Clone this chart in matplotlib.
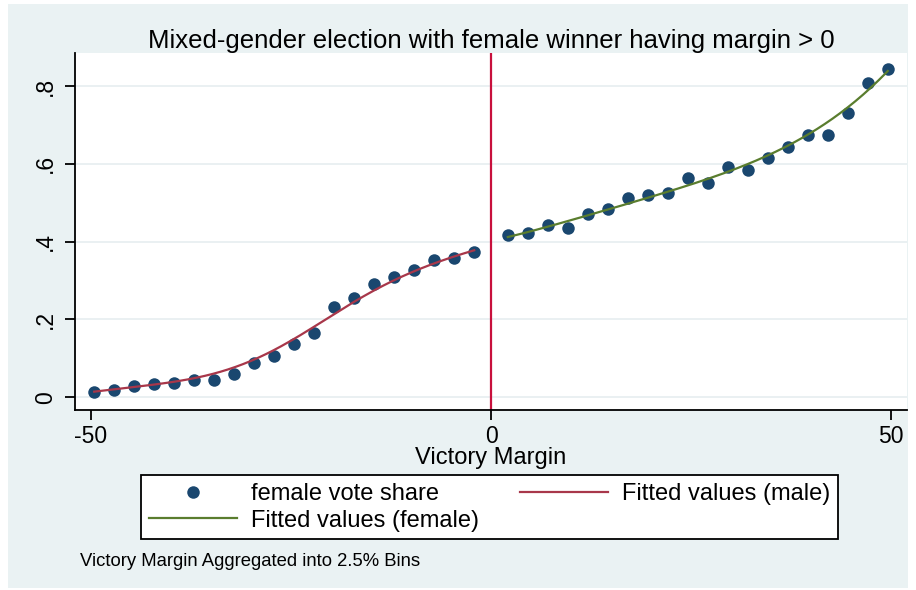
import numpy as np
import matplotlib
matplotlib.use("Agg")
import matplotlib.pyplot as plt
from matplotlib.patches import Rectangle
from matplotlib.lines import Line2D

plt.rcParams["font.family"] = ["Liberation Sans", "DejaVu Sans"]

# Binned victory margin (2.5% bins) and mean female vote share per bin
margin_male = [-49.6, -47.1, -44.6, -42.1, -39.6, -37.1, -34.6, -32.1, -29.6, -27.1,
               -24.6, -22.1, -19.6, -17.1, -14.6, -12.1, -9.6, -7.1, -4.6, -2.1]
share_male = [0.014, 0.019, 0.029, 0.033, 0.036, 0.043, 0.044, 0.059, 0.087, 0.107,
              0.137, 0.166, 0.231, 0.254, 0.292, 0.309, 0.326, 0.354, 0.359, 0.374]

margin_female = [2.1, 4.6, 7.1, 9.6, 12.1, 14.6, 17.1, 19.6, 22.1, 24.6,
                 27.1, 29.6, 32.1, 34.6, 37.1, 39.6, 42.1, 44.6, 47.1, 49.6]
share_female = [0.416, 0.423, 0.442, 0.435, 0.470, 0.485, 0.512, 0.519, 0.526, 0.563,
                0.551, 0.591, 0.585, 0.615, 0.643, 0.673, 0.674, 0.730, 0.807, 0.844]

x_ticks = [-50, 0, 50]
y_ticks = [0, 0.2, 0.4, 0.6, 0.8]
y_tick_labels = ["0", ".2", ".4", ".6", ".8"]

title = "Mixed-gender election with female winner having margin > 0"
x_label = "Victory Margin"
note = "Victory Margin Aggregated into 2.5% Bins"

NAVY = "#1a476f"
MAROON = "#a8374a"
GREEN = "#5a7d2e"
CUTOFF = "#c8103c"
REGION = "#eaf2f3"
GRID = "#e6eef0"

fig = plt.figure(figsize=(9.16, 5.90), dpi=100)
fig.patch.set_facecolor("white")
fig.add_artist(Rectangle((8 / 916, 2 / 590), 900 / 916, 584 / 590,
                         transform=fig.transFigure, facecolor=REGION,
                         edgecolor="none", zorder=0))

ax = fig.add_axes([75 / 916, 1 - 410 / 590, 832 / 916, 357 / 590])
ax.set_facecolor("white")
ax.set_zorder(1)


# Fitted values: local polynomial regression with a Gaussian kernel
def fitted(x, y, deg, bw):
    x = np.asarray(x)
    y = np.asarray(y)
    grid = np.linspace(x.min(), x.max(), 200)
    out = np.empty_like(grid)
    for i, g in enumerate(grid):
        w = np.exp(-0.5 * ((x - g) / bw) ** 2)
        coef = np.polyfit(x - g, y, deg, w=np.sqrt(w))
        out[i] = coef[-1]
    return grid, out


gx_m, gy_m = fitted(margin_male, share_male, 1, 6.0)
gx_f, gy_f = fitted(margin_female, share_female, 2, 12.0)

for yt in y_ticks:
    ax.axhline(yt, color=GRID, lw=1.2, zorder=0)

ax.scatter(margin_male + margin_female, share_male + share_female,
           s=9.0 ** 2, color=NAVY, zorder=3, linewidths=0)
ax.plot(gx_m, gy_m, color=MAROON, lw=1.6, zorder=4)
ax.plot(gx_f, gy_f, color=GREEN, lw=1.6, zorder=4)
ax.axvline(0, color=CUTOFF, lw=1.6, zorder=2)

ax.set_xlim(-52, 52)
ax.set_ylim(-0.033, 0.885)
ax.set_xticks(x_ticks)
ax.set_xticklabels([str(v) for v in x_ticks])
ax.set_yticks(y_ticks)
ax.set_yticklabels(y_tick_labels, rotation=90, va="center")

for side in ("top", "right"):
    ax.spines[side].set_visible(False)
for side in ("left", "bottom"):
    ax.spines[side].set_linewidth(1.3)
    ax.spines[side].set_color("black")
ax.tick_params(axis="both", direction="out", length=7, width=1.3,
               labelsize=16.5, colors="black")
ax.tick_params(axis="y", pad=6)
ax.tick_params(axis="x", pad=4)

ax.set_xlabel(x_label, fontsize=17, labelpad=-1)
fig.text(491 / 916, 1 - 41 / 590, title, fontsize=18.5, ha="center", va="center")
fig.text(80 / 916, 1 - 562 / 590, note, fontsize=13.3, ha="left", va="center")

handles = [
    Line2D([], [], marker="o", ls="none", color=NAVY, markersize=9,
           markeredgewidth=0),
    Line2D([], [], color=GREEN, lw=1.6),
    Line2D([], [], color=MAROON, lw=1.6),
]
labels = ["female vote share", "Fitted values (female)", "Fitted values (male)"]
leg = fig.legend(handles, labels, ncol=2, loc="upper left",
                 bbox_to_anchor=(141 / 916, 1 - 475 / 590),
                 frameon=True, fancybox=False, framealpha=1, fontsize=17,
                 handlelength=3.75, handletextpad=0.6, columnspacing=1.7,
                 labelspacing=0.2, borderpad=0.33, borderaxespad=0)
frame = leg.get_frame()
frame.set_edgecolor("black")
frame.set_linewidth(1.3)
frame.set_facecolor("white")

fig.savefig("out.png", dpi=100)
